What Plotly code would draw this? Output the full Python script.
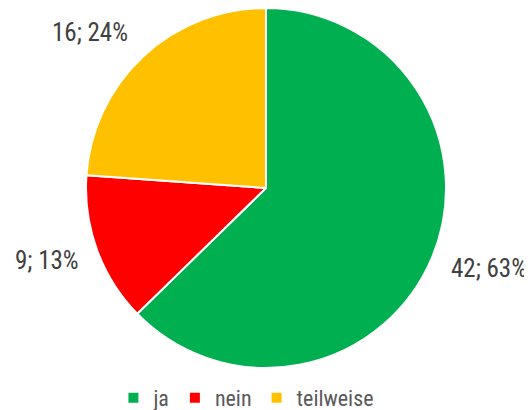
import plotly.graph_objects as go

labels = ["ja", "nein", "teilweise"]
values = [42, 9, 16]
colors = ["#00B050", "#FF0000", "#FFC000"]

# page has an 8px body margin, so the figure is drawn 8px in from the window edge
W, H = 524, 402
cx, cy, r = 258, 180, 180
# label centres in figure pixels
label_px = [(481, 260), (39, 252), (82, 25)]

fig = go.Figure(go.Pie(
    labels=labels, values=values, sort=False, direction="clockwise", rotation=0,
    marker=dict(colors=colors, line=dict(color="white", width=2)),
    textinfo="none", hoverinfo="label+value+percent",
    domain=dict(x=[(cx - r) / W, (cx + r) / W], y=[(H - cy - r) / H, (H - cy + r) / H]),
))

total = sum(values)
font_family = "Liberation Sans Narrow, Roboto Condensed, Arial Narrow, sans-serif"
for v, (px, py) in zip(values, label_px):
    fig.add_annotation(text=f"{v}; {round(100 * v / total)}%", x=px / W, y=1 - py / H,
                       xref="paper", yref="paper", xanchor="center", yanchor="middle",
                       showarrow=False,
                       font=dict(size=25, color="#404040", family=font_family))

fig.update_layout(
    width=W, height=H, margin=dict(l=0, r=0, t=0, b=0, autoexpand=False),
    paper_bgcolor="white", plot_bgcolor="white",
    font=dict(family=font_family, color="#595959", size=22),
    legend=dict(orientation="h", x=0.455, xanchor="center", y=1 - 390 / H, yanchor="middle",
                bgcolor="rgba(0,0,0,0)",
                font=dict(size=22, color="#595959"), itemwidth=30, tracegroupgap=0),
)
fig.write_html("out.html")
